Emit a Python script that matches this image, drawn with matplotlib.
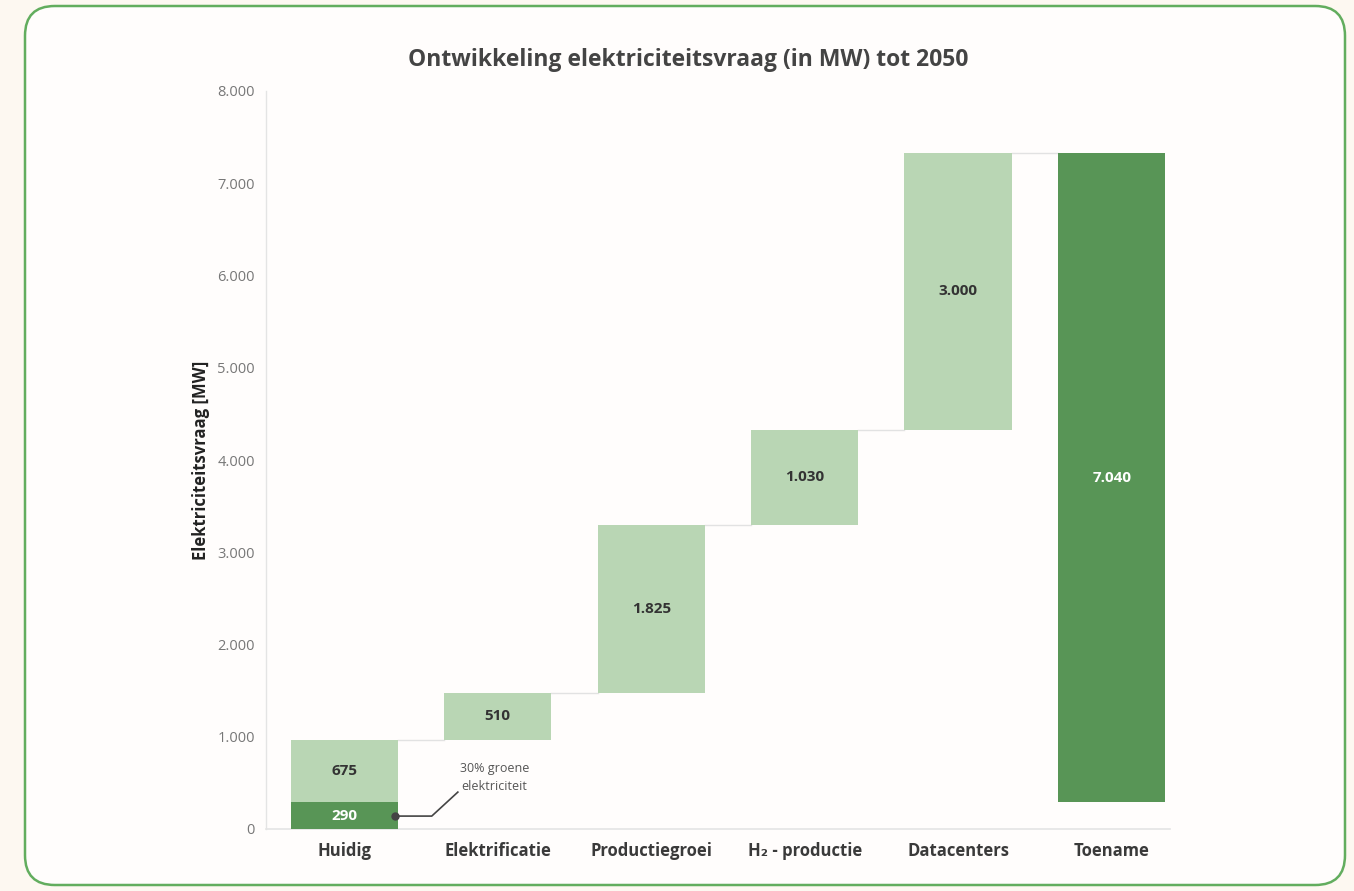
import matplotlib
matplotlib.use("Agg")
import matplotlib.pyplot as plt
from matplotlib.patches import FancyBboxPatch
import numpy as np

categories = ["Huidig", "Elektrificatie", "Productiegroei", "H\u2082 - productie", "Datacenters", "Toename"]
huidig_groen = 290
huidig_overig = 675
stappen = [510, 1825, 1030, 3000]
toename = 7040
yticks = [0, 1000, 2000, 3000, 4000, 5000, 6000, 7000, 8000]

def fmt(v):
    return f"{v:,}".replace(",", ".")

plt.rcParams['font.family'] = ['Open Sans', 'DejaVu Sans']

W, H = 1354, 891
fig = plt.figure(figsize=(W/100, H/100), dpi=100)
fig.patch.set_facecolor('#fdf8f1')

box = FancyBboxPatch((25/W, 6/H), (1345-25)/W, (885-6)/H,
                     boxstyle="round,pad=0,rounding_size=0.022",
                     transform=fig.transFigure, facecolor='#fffdfc',
                     edgecolor='#62ad5e', linewidth=1.8, zorder=-10,
                     mutation_aspect=W/H)
fig.patches.append(box)

ax = fig.add_axes([266/W, (H-829)/H, (1170-266)/W, (829-91)/H])
ax.set_facecolor('none')
ax.set_zorder(5)

light = '#b9d6b4'
dark = '#589556'
bw = 0.70
vfs = 11

x = np.arange(len(categories))
# Huidig
ax.bar(x[0], huidig_groen, bw, color=dark, zorder=3)
ax.bar(x[0], huidig_overig, bw, bottom=huidig_groen, color=light, zorder=3)
ax.text(x[0], huidig_groen/2, fmt(huidig_groen), ha='center', va='center',
        color='white', fontsize=vfs, fontweight='bold', zorder=4)
ax.text(x[0], huidig_groen + huidig_overig/2, fmt(huidig_overig), ha='center', va='center',
        color='#333333', fontsize=vfs, fontweight='bold', zorder=4)

level = huidig_groen + huidig_overig
for i, s in enumerate(stappen, start=1):
    ax.plot([x[i-1] + bw/2, x[i] - bw/2], [level, level], color='#e2e2e2', lw=1, zorder=2)
    ax.bar(x[i], s, bw, bottom=level, color=light, zorder=3)
    ax.text(x[i], level + s/2, fmt(s), ha='center', va='center',
            color='#333333', fontsize=vfs, fontweight='bold', zorder=4)
    level += s

ax.plot([x[4] + bw/2, x[5] - bw/2], [level, level], color='#e2e2e2', lw=1, zorder=2)
ax.bar(x[5], toename, bw, bottom=huidig_groen, color=dark, zorder=3)
ax.text(x[5], huidig_groen + toename/2, fmt(toename), ha='center', va='center',
        color='white', fontsize=vfs, fontweight='bold', zorder=4)

# annotation
ax.plot([x[0] + bw/2 - 0.02, x[0] + 0.57, x[0] + 0.74], [140, 140, 400],
        color='#444444', lw=1.2, zorder=5)
ax.plot([x[0] + bw/2 - 0.02], [140], 'o', color='#444444', ms=5, zorder=5)
ax.text(x[0] + 0.98, 560, "30% groene\nelektriciteit", ha='center', va='center',
        color='#555555', fontsize=9, linespacing=1.55, zorder=5)

ax.set_xlim(-0.51, 5.38)
ax.set_ylim(0, 8000)
ax.set_yticks(yticks)
ax.set_yticklabels([fmt(v) for v in yticks], color='#777777', fontsize=10.5)
ax.set_xticks(x)
ax.set_xticklabels(categories, fontsize=12, fontweight='bold', color='#3a3a3a')
ax.tick_params(axis='both', length=0)
ax.tick_params(axis='y', pad=8)
ax.tick_params(axis='x', pad=9)
for sp in ['top', 'right']:
    ax.spines[sp].set_visible(False)
ax.spines['left'].set_color('#e4e4e4')
ax.spines['bottom'].set_color('#e4e4e4')
ax.spines['left'].set_linewidth(1)
ax.spines['bottom'].set_linewidth(1.2)

ax.set_ylabel("Elektriciteitsvraag [MW]", fontsize=12, fontweight='bold', color='#222222', labelpad=5)

fig.text(688/W, 1 - 60/H, "Ontwikkeling elektriciteitsvraag (in MW) tot 2050",
         ha='center', va='center', fontsize=16.5, fontweight='bold', color='#444444')

fig.savefig("out.png", dpi=100, facecolor=fig.get_facecolor())
